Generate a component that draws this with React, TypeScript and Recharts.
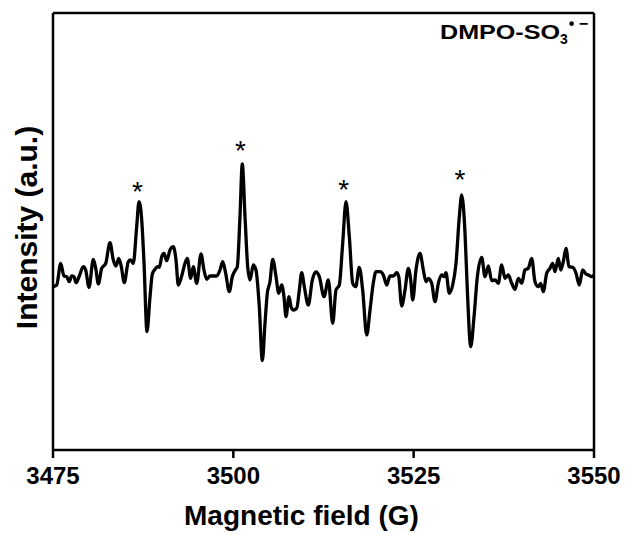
import React from 'react';
import { ComposedChart, Line, XAxis, YAxis, Label, ReferenceDot } from 'recharts';

const field = [
  3475.0, 3475.51, 3476.07, 3476.52, 3476.9, 3477.26, 3477.59, 3477.91, 3478.19, 3478.65,
  3479.2, 3479.53, 3479.99, 3480.59, 3480.96, 3481.28, 3481.75, 3482.31, 3482.9, 3483.36,
  3483.73, 3484.11, 3484.47, 3484.88, 3485.44, 3485.77, 3486.13, 3486.6, 3486.92, 3487.3,
  3487.62, 3488.03, 3488.45, 3488.77, 3489.14, 3489.46, 3489.74, 3490.07, 3490.39, 3490.76,
  3491.22, 3491.68, 3492.05, 3492.37, 3492.84, 3493.3, 3493.62, 3494.09, 3494.45, 3494.92,
  3495.52, 3495.93, 3496.31, 3496.77, 3497.69, 3498.15, 3498.53, 3498.94, 3499.44, 3499.86,
  3500.23, 3500.55, 3500.92, 3501.24, 3501.62, 3501.99, 3502.31, 3502.77, 3503.14, 3503.6,
  3504.02, 3504.39, 3504.71, 3505.08, 3505.46, 3505.92, 3506.29, 3506.71, 3507.02, 3507.3,
  3507.72, 3508.0, 3508.31, 3508.79, 3509.15, 3509.48, 3509.84, 3510.39, 3510.95, 3511.46,
  3511.92, 3512.57, 3513.17, 3513.78, 3514.23, 3514.69, 3515.16, 3515.62, 3516.08, 3516.55,
  3516.97, 3517.46, 3517.93, 3518.49, 3518.95, 3519.4, 3519.78, 3520.33, 3520.79, 3521.26,
  3521.72, 3522.18, 3522.65, 3522.93, 3523.34, 3523.8, 3524.26, 3524.59, 3524.87, 3525.32,
  3525.88, 3526.34, 3526.71, 3527.03, 3527.5, 3527.96, 3528.42, 3528.89, 3529.21, 3529.48,
  3529.94, 3530.41, 3530.87, 3531.33, 3531.66, 3532.12, 3532.44, 3532.91, 3533.37, 3533.83,
  3534.43, 3534.89, 3535.35, 3535.82, 3536.28, 3536.73, 3537.2, 3537.66, 3538.12, 3538.59,
  3539.05, 3539.51, 3539.98, 3540.43, 3540.89, 3541.36, 3541.82, 3542.28, 3542.61, 3542.97,
  3543.44, 3543.9, 3544.27, 3544.59, 3545.05, 3545.38, 3545.74, 3546.12, 3546.53, 3547.05,
  3547.51, 3547.96, 3548.43, 3548.89, 3549.21, 3549.68, 3550.0,
];

const intensity = [
  -6.7, -5, 16.7, 4, 3.3, -1.7, 4, 3.3, -2.7, 4,
  13.3, 10, -7.3, 20.7, 10, -4, 11.7, 16.7, 37.3, 20,
  14, 21.7, 13.3, -2.7, 18.3, 20, 16.7, 53.3, 78.3, 60,
  16.7, -51.7, -16.7, 6, 10.7, 13.3, 12.7, 23.3, 26.7, 19.3,
  30, 33.3, 20, -5, 4, 16.7, 21.7, 1.7, 13.3, -3.3,
  26, 10, 0.7, 4, 4, 10, 18.3, 6.7, -11.7, 3.3,
  9.3, 13.3, 63.3, 116, 63.3, 13.3, 0, 15, 10, -26.7,
  -80.7, -43.3, -13.3, -1.7, 20.7, 3.3, -13.3, -5, -16.7, -36.7,
  -16.7, -26.7, -30, -28.3, -10, 7.3, -6.7, -25, 0, 8,
  3.3, -16.7, 0, -43.3, -10, -5, 36.7, 78.3, 43.3, -3.3,
  -6.7, 12.7, -10, -55, -30, -3.3, 8.3, 8.3, 5, -5,
  4, 4, 7.3, 3.3, -26, -10, 11.7, 0, -20, 10,
  26.7, 10, -1.7, 1.7, -3.3, -21.7, -3.3, 5, 3.3, 7.3,
  -13.3, -5, 16.7, 63.3, 85, 46.7, -10, -66.7, -36.7, 3.3,
  22.7, 3.3, 14, -0.7, 0, -3.3, 15, 1.7, 5, -3.3,
  -9.3, 1.7, -3.3, 10, 11.7, 21.7, -1.7, -6.7, -3.3, -11.7,
  6.7, 11.7, 16.7, 8.3, 21.7, 10, 18.3, 31.7, 13.3, 12.7,
  6.7, -5, 10, 6, 5, 3.3, 5,
];

const starField = [3486.7, 3501.0, 3515.3, 3531.4];
const starLevel = [95, 136, 96.7, 107.3];

const majorTicks = [3475, 3500, 3525, 3550];
const minorTicks = [3487.5, 3512.5, 3537.5];
const xDomain = [3475, 3550];
const yDomain = [-170, 267];

const data = field.map((f, i) => ({ field: f, intensity: intensity[i] }));

const FONT = 'Liberation Sans, Arial, Helvetica, sans-serif';
const axisStroke = { stroke: '#000', strokeWidth: 2.5 };
const THIN = 0.001;

const StarShape = (props: any) => (
  <text
    x={props.cx}
    y={props.cy + 16}
    textAnchor="middle"
    fontFamily={FONT}
    fontSize={28}
    fill="#000"
  >
    *
  </text>
);

export default function App() {
  return (
    <div style={{ position: 'absolute', left: 0, top: 0, width: 625, height: 535, background: '#fff' }}>
      <ComposedChart
        width={625}
        height={535}
        data={data}
        margin={{ top: 13, right: 31, bottom: 0, left: 0 }}
      >
        <XAxis
          xAxisId="minor"
          dataKey="field"
          type="number"
          domain={xDomain}
          ticks={minorTicks}
          tickSize={4}
          tickFormatter={() => ''}
          axisLine={false}
          tickLine={axisStroke}
          height={THIN}
          allowDataOverflow
        />
        <XAxis
          xAxisId="main"
          dataKey="field"
          type="number"
          domain={xDomain}
          ticks={majorTicks}
          tickSize={8}
          tickMargin={9}
          height={85 - THIN}
          axisLine={axisStroke}
          tickLine={axisStroke}
          tick={{ fill: '#000', fontSize: 24, fontWeight: 'bold', fontFamily: FONT }}
          allowDataOverflow
        >
          <Label
            value="Magnetic field (G)"
            position="insideBottom"
            offset={10}
            dx={-22}
            style={{ fill: '#000', fontSize: 28, fontWeight: 'bold', fontFamily: FONT }}
          />
        </XAxis>
        <XAxis
          xAxisId="top"
          orientation="top"
          dataKey="field"
          type="number"
          domain={xDomain}
          height={THIN}
          tick={false}
          tickLine={false}
          axisLine={axisStroke}
        />
        <YAxis
          yAxisId="left"
          type="number"
          domain={yDomain}
          width={53}
          tick={false}
          tickLine={false}
          axisLine={axisStroke}
          allowDataOverflow
        >
          <Label
            value="Intensity (a.u.)"
            angle={-90}
            position="center"
            dy={-4}
            style={{ fill: '#000', fontSize: 30, fontWeight: 'bold', fontFamily: FONT }}
          />
        </YAxis>
        <YAxis
          yAxisId="right"
          orientation="right"
          type="number"
          domain={yDomain}
          width={THIN}
          tick={false}
          tickLine={false}
          axisLine={axisStroke}
        />
        <Line
          xAxisId="main"
          yAxisId="left"
          dataKey="intensity"
          type="monotone"
          stroke="#000"
          strokeWidth={3.3}
          dot={false}
          isAnimationActive={false}
        />
        {starField.map((f, i) => (
          <ReferenceDot
            key={i}
            xAxisId="main"
            yAxisId="left"
            x={f}
            y={starLevel[i]}
            r={0}
            shape={StarShape}
          />
        ))}
      </ComposedChart>
      <svg
        width={625}
        height={535}
        style={{ position: 'absolute', left: 0, top: 0, pointerEvents: 'none' }}
      >
        <text x={440} y={39} fontFamily={FONT} fontWeight="bold" fontSize={20} fill="#000">
          <tspan textLength={120} lengthAdjust="spacingAndGlyphs">DMPO-SO</tspan>
          <tspan fontSize={14} dy={5}>3</tspan>
          <tspan fontSize={16} dy={-15} dx={1}>{'\u2022 \u2212'}</tspan>
        </text>
      </svg>
    </div>
  );
}
